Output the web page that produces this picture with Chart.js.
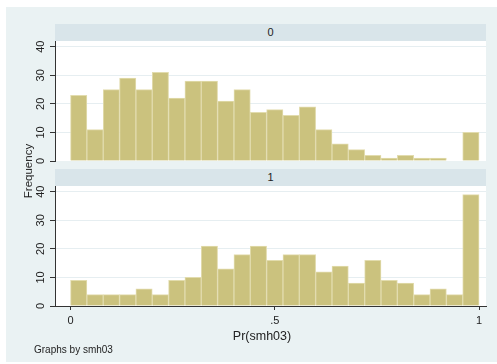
<!DOCTYPE html>
<html><head><meta charset="utf-8">
<script src="https://cdn.jsdelivr.net/npm/chart.js@4.4.0/dist/chart.umd.min.js"></script>
<style>
html,body{margin:0;padding:0;background:#fff;}
#wrap{position:relative;width:497px;height:364px;overflow:hidden;font-family:"Liberation Sans",Arial,sans-serif;color:#222;}
#bg{position:absolute;left:6px;top:7px;width:491px;height:355px;background:#eaf2f3;}
.strip{position:absolute;left:55px;width:431px;height:17px;background:#d9e5ea;font-size:11px;line-height:17px;text-align:center;}
.cv{position:absolute;left:0;width:497px;}
.txt{position:absolute;white-space:nowrap;text-align:center;}
</style></head>
<body><div id="wrap">
<div id="bg"></div>
<div class="strip" style="top:24px">0</div>
<div class="strip" style="top:169px">1</div>
<div class="cv" style="top:31px;height:140px"><canvas id="c0"></canvas></div>
<div class="cv" style="top:176px;height:160px"><canvas id="c1"></canvas></div>
<div class="txt" style="left:-22px;top:164px;width:100px;height:14px;line-height:14px;font-size:11.5px;transform:rotate(-90deg);">Frequency</div>
<div class="txt" style="left:212px;top:328px;width:100px;height:16px;line-height:16px;font-size:12.5px;">Pr(smh03)</div>
<div class="txt" style="left:34px;top:344px;height:12px;line-height:12px;font-size:10px;text-align:left;">Graphs by smh03</div>
</div>
<script>
const binMids = [0.02,0.06,0.10,0.14,0.18,0.22,0.26,0.30,0.34,0.38,0.42,0.46,0.50,0.54,0.58,0.62,0.66,0.70,0.74,0.78,0.82,0.86,0.90,0.94,0.98];
const freq0 = [23,11,25,29,25,31,22,28,28,21,25,17,18,16,19,11,6,4,2,1,2,1,1,0,10];
const freq1 = [9,4,4,4,6,4,9,10,21,13,18,21,16,18,18,12,14,8,16,9,8,4,6,4,39];
const yTicks = [0,10,20,30,40];
const xTicks = [0,0.5,1];
const xTickLabels = {"0":"0","0.5":".5","1":"1"};

const fontFam = '"Liberation Sans", Arial, sans-serif';
const plotBg = {
  id:'plotBg',
  beforeDraw(chart){
    const a = chart.chartArea, c = chart.ctx;
    c.save(); c.fillStyle='#ffffff'; c.fillRect(a.left,a.top,a.right-a.left,a.bottom-a.top); c.restore();
  }
};

function makeChart(id, counts, showX){
  const pts = binMids.map((m,i)=>({x:m,y:counts[i]}));
  return new Chart(document.getElementById(id), {
    type:'bar',
    data:{datasets:[{data:pts,backgroundColor:'#cbc27e',borderColor:'#e2dcae',borderWidth:{left:1,right:1,top:1,bottom:0},barPercentage:1,categoryPercentage:1,grouped:false}]},
    options:{
      responsive:true, maintainAspectRatio:false, animation:false,
      layout:{padding:{left:0,right:11,top:10,bottom:showX?0:10}},
      plugins:{legend:{display:false},tooltip:{enabled:false}},
      scales:{
        x:{type:'linear',min:-0.038,max:1.017,display:showX,offset:false,
          afterBuildTicks(s){s.ticks = xTicks.map(v=>({value:v}));},
          afterFit(s){ if(showX) s.height = 30; },
          grid:{offset:false,drawOnChartArea:false,drawTicks:true,tickLength:4,tickColor:'#333'},
          border:{display:true,color:'#333',width:1},
          ticks:{padding:4,color:'#222',font:{family:fontFam,size:11},callback:v=>xTickLabels[String(v)]}
        },
        y:{min:0,max:42,
          afterBuildTicks(s){s.ticks = yTicks.map(v=>({value:v}));},
          afterFit(s){ s.width = 55; },
          grid:{color:(c)=>c.tick && c.tick.value===0?'rgba(0,0,0,0)':'#e6eef1',tickColor:'#333',tickLength:5,drawTicks:true},
          border:{display:true,color:'#333',width:1},
          ticks:{minRotation:90,maxRotation:90,crossAlign:'center',padding:3,color:'#222',font:{family:fontFam,size:11}}
        }
      }
    },
    plugins:[plotBg]
  });
}
makeChart('c0', freq0, false);
makeChart('c1', freq1, true);
</script>
</body></html>
